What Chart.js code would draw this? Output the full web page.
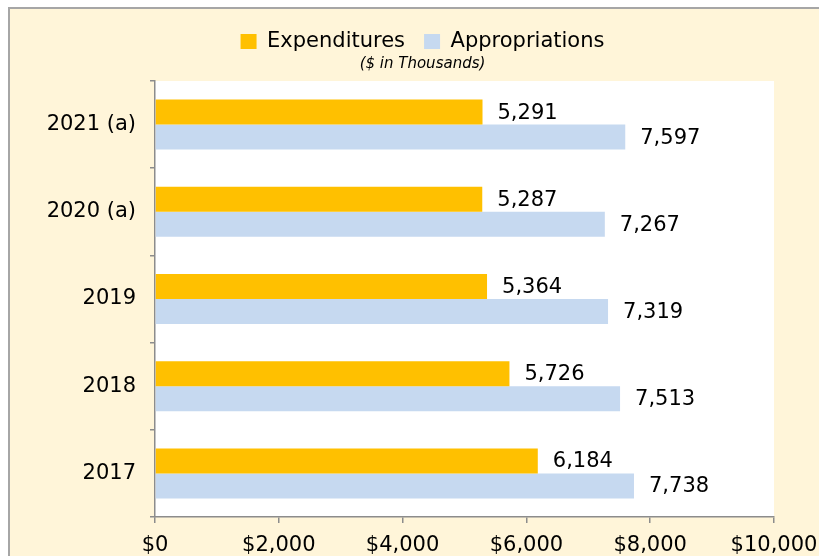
<!DOCTYPE html>
<html>
<head>
<meta charset="utf-8">
<script src="https://cdn.jsdelivr.net/npm/chart.js@4/dist/chart.umd.min.js"></script>
<style>
  html, body { margin: 0; padding: 0; background: #ffffff; }
  #wrap { position: absolute; left: 0; top: 0; width: 819px; height: 556px; }
</style>
</head>
<body>
<div id="wrap"><canvas id="c" width="819" height="556"></canvas></div>
<script>
const categories = ['2021 (a)', '2020 (a)', '2019', '2018', '2017'];
const expenditures = [5291, 5287, 5364, 5726, 6184];
const appropriations = [7597, 7267, 7319, 7513, 7738];
const xTickValues = [0, 2000, 4000, 6000, 8000, 10000];
const seriesNames = ['Expenditures', 'Appropriations'];
const subtitleText = '($ in Thousands)';

const FONT = "'DejaVu Sans', Verdana, sans-serif";
const CREAM = '#FFF5D9';
const AXIS = '#8c8c8c';

const backgroundPlugin = {
  id: 'bg',
  beforeDraw(chart) {
    const ctx = chart.ctx;
    const ca = chart.chartArea;
    ctx.save();
    ctx.fillStyle = '#ffffff';
    ctx.fillRect(0, 0, chart.width, chart.height);
    ctx.fillStyle = '#a6a6a6';
    ctx.fillRect(8, 7, chart.width, chart.height);
    ctx.fillStyle = CREAM;
    ctx.fillRect(10, 9, chart.width, chart.height);
    ctx.fillStyle = '#ffffff';
    ctx.fillRect(ca.left, ca.top, ca.right - ca.left, ca.bottom - ca.top);
    ctx.restore();
  }
};

const valueLabelPlugin = {
  id: 'valueLabels',
  afterDatasetsDraw(chart) {
    const ctx = chart.ctx;
    ctx.save();
    ctx.font = "21px " + FONT;
    ctx.fillStyle = '#000000';
    ctx.textAlign = 'left';
    ctx.textBaseline = 'middle';
    chart.data.datasets.forEach((ds, di) => {
      const meta = chart.getDatasetMeta(di);
      meta.data.forEach((el, i) => {
        const v = ds.data[i];
        ctx.fillText(v.toLocaleString('en-US'), el.x + 15, el.y + 1);
      });
    });
    ctx.restore();
  }
};

new Chart(document.getElementById('c'), {
  type: 'bar',
  data: {
    labels: categories,
    datasets: [
      {
        label: seriesNames[0],
        data: expenditures,
        backgroundColor: '#FFC000',
        borderWidth: 0,
        categoryPercentage: 0.573,
        barPercentage: 1.0
      },
      {
        label: seriesNames[1],
        data: appropriations,
        backgroundColor: '#C6D9F0',
        borderWidth: 0,
        categoryPercentage: 0.573,
        barPercentage: 1.0
      }
    ]
  },
  options: {
    indexAxis: 'y',
    responsive: false,
    animation: false,
    devicePixelRatio: 1,
    layout: { padding: { left: 26, right: 0, top: 12, bottom: 0 } },
    plugins: {
      tooltip: { enabled: false },
      legend: {
        display: true,
        position: 'top',
        weight: 2000,
        labels: {
          font: { family: FONT, size: 21 },
          color: '#000000',
          boxWidth: 16,
          boxHeight: 15,
          padding: 19
        }
      },
      subtitle: {
        display: true,
        text: subtitleText,
        weight: 1500,
        font: { family: FONT, size: 15, style: 'italic' },
        color: '#000000',
        padding: { top: -7, bottom: 8 }
      },
      title: { display: false }
    },
    scales: {
      x: {
        type: 'linear',
        min: 0,
        max: 10000,
        afterBuildTicks(scale) {
          scale.ticks = xTickValues.map(v => ({ value: v }));
        },
        afterFit(scale) {
          scale.height = 39;
          scale.paddingRight = 45;
          scale.paddingLeft = 0;
        },
        grid: {
          display: true,
          drawOnChartArea: false,
          drawTicks: true,
          tickLength: 6,
          color: AXIS,
          lineWidth: 1.5
        },
        border: { display: true, color: AXIS, width: 1.5 },
        ticks: {
          padding: 10,
          color: '#000000',
          font: { family: FONT, size: 21 },
          maxRotation: 0,
          autoSkip: false,
          callback: (v) => '$' + Number(v).toLocaleString('en-US')
        }
      },
      y: {
        type: 'category',
        afterFit(scale) { scale.width = 129; },
        grid: {
          display: true,
          offset: true,
          drawOnChartArea: false,
          drawTicks: true,
          tickLength: 5,
          color: AXIS,
          lineWidth: 1.5
        },
        border: { display: true, color: AXIS, width: 1.5 },
        ticks: {
          padding: 14,
          color: '#000000',
          font: { family: FONT, size: 21 },
          autoSkip: false
        }
      }
    }
  },
  plugins: [backgroundPlugin, valueLabelPlugin]
});
</script>
</body>
</html>
